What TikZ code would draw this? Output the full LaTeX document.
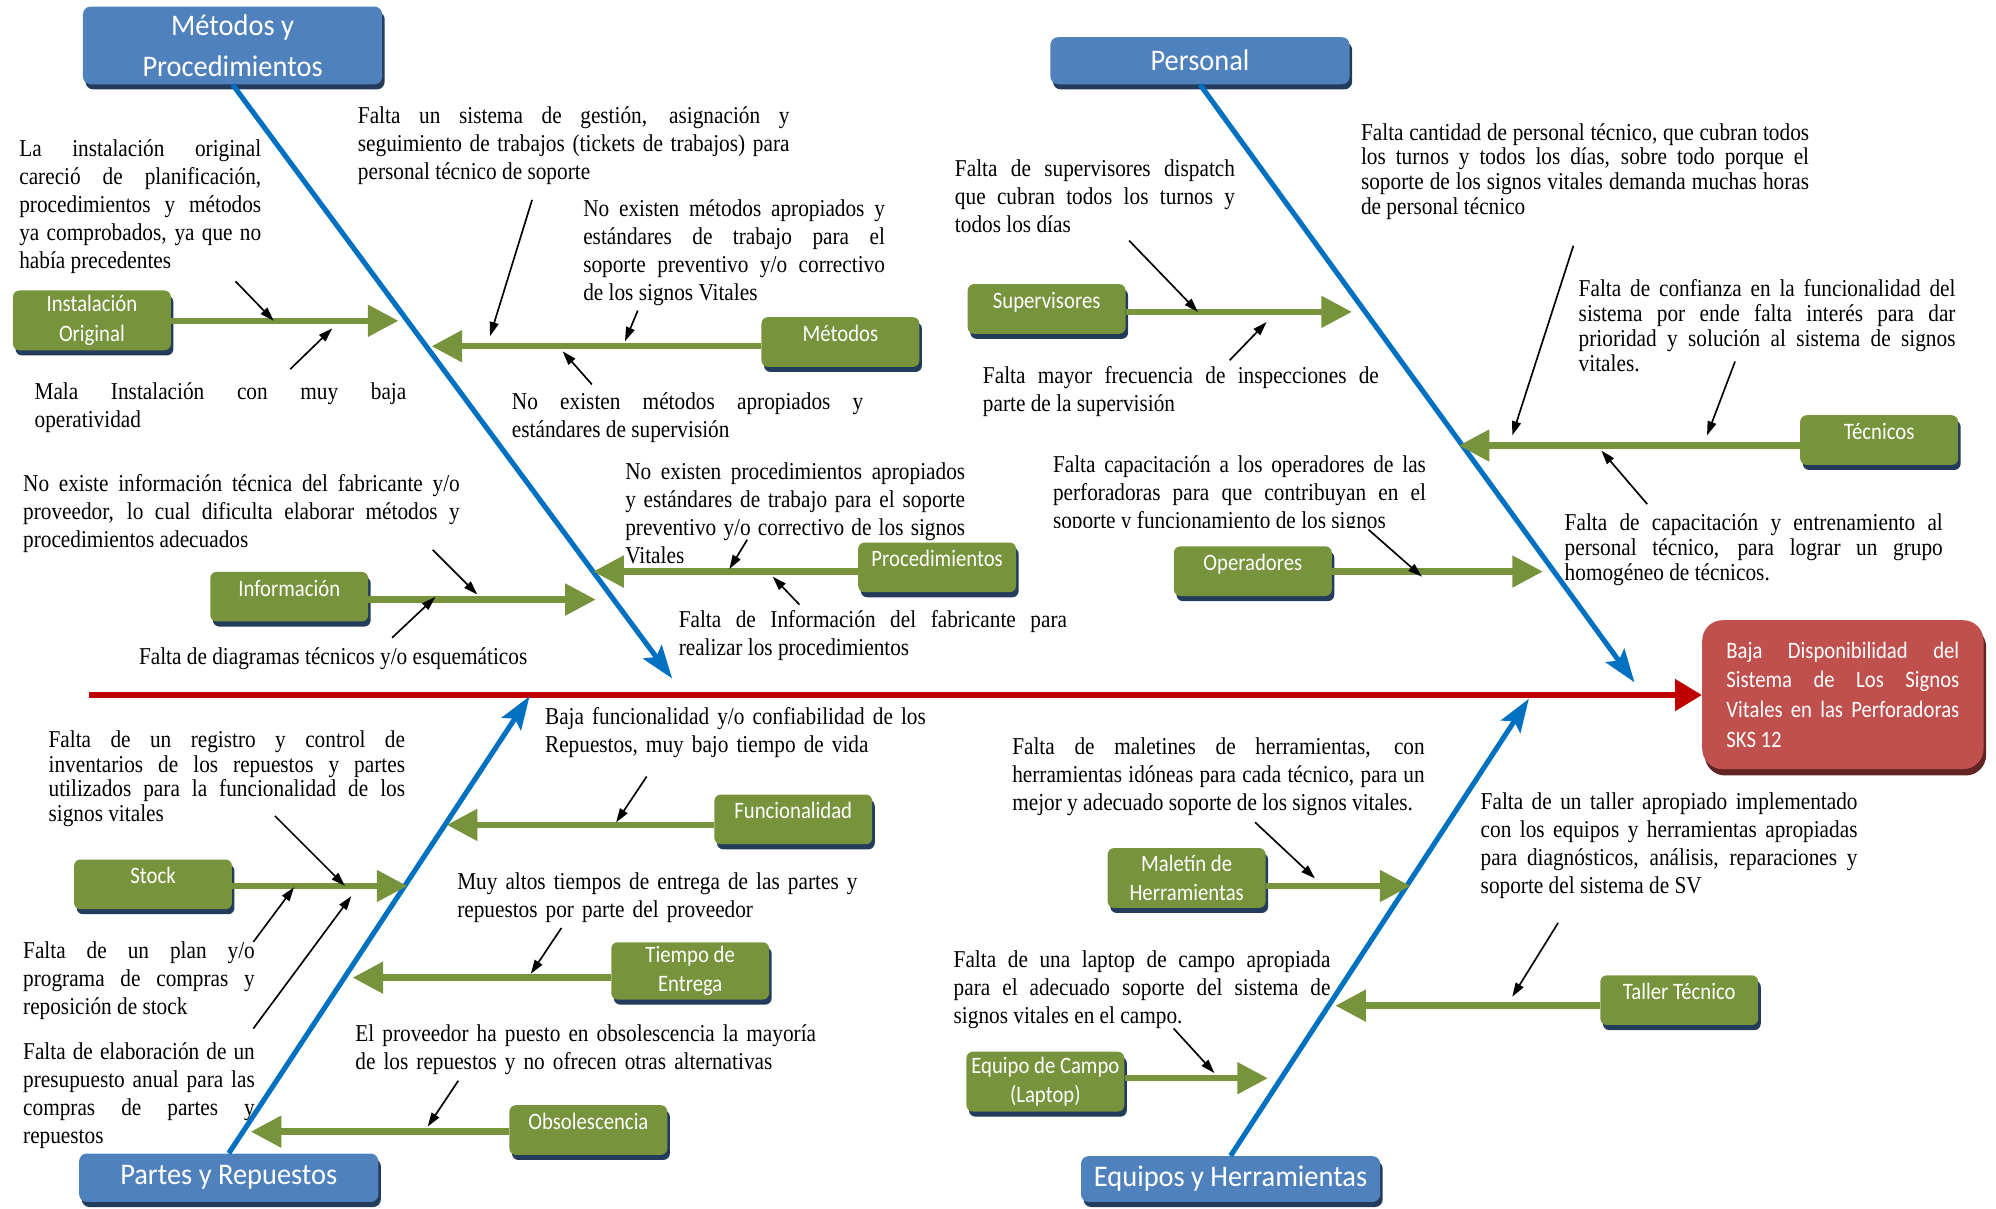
\documentclass[tikz,border=0pt]{standalone}
\usepackage{fontspec}
\setmainfont[FakeStretch=0.88]{Liberation Serif}
\newfontfamily\boxfont[FakeStretch=0.88]{Carlito}
\newfontfamily\headfont[FakeStretch=0.95]{Carlito}
\usepackage{tikz}
\usetikzlibrary{positioning,shapes,calc,arrows.meta,shadows}
\tolerance=10000
\hyphenpenalty=10000

\definecolor{boneblue}{RGB}{0,112,192}
\definecolor{headblue}{RGB}{79,129,189}
\definecolor{causegreen}{RGB}{119,147,60}
\definecolor{navyshadow}{RGB}{36,60,92}
\definecolor{effectred}{RGB}{192,80,77}
\definecolor{redshadow}{RGB}{99,37,35}
\definecolor{spinered}{RGB}{192,0,0}

\begin{document}
\begin{tikzpicture}[x=1pt,y=-1pt,
    head/.style={fill=headblue, rounded corners=6pt, text=white, anchor=north west,
        font=\headfont\fontsize{23.5}{32}\selectfont, align=center, inner sep=0pt,
        minimum width=235pt, copy shadow={shadow xshift=2pt, shadow yshift=-4pt, fill=navyshadow, draw=none}},
    cause/.style={fill=causegreen, rounded corners=5pt, text=white, anchor=north west,
        font=\boxfont\fontsize{18.5}{23}\selectfont, align=center, inner xsep=2pt, inner ysep=0pt,
        minimum width=124pt, copy shadow={shadow xshift=2pt, shadow yshift=-4pt, fill=navyshadow, draw=none}},
    causeone/.style={cause, text height=19pt, text depth=20pt},
    causetwo/.style={cause, minimum height=47pt},
    effect/.style={fill=effectred, rounded corners=16pt, text=white, anchor=north west,
        font=\boxfont\fontsize{18.5}{23.4}\selectfont, align=justify, text width=183pt,
        inner xsep=19pt, inner ysep=0pt, minimum height=117pt,
        copy shadow={shadow xshift=2pt, shadow yshift=-5pt, fill=redshadow, draw=none}},
    note/.style={anchor=base west, align=justify, inner sep=0pt, font=\fontsize{19}{22}\selectfont},
    tightnote/.style={note, font=\fontsize{19}{19.5}\selectfont},
    garrow/.style={causegreen, line width=5pt, -{Triangle[length=24pt,width=24pt]}},
    bone/.style={boneblue, line width=4pt, -{Stealth[length=26pt,width=18pt,inset=5pt]}},
    spine/.style={spinered, line width=4.5pt, -{Triangle[length=21pt,width=24pt]}},
    pointer/.style={line width=1.3pt, -{Triangle[length=11pt,width=7pt]}}]

    \useasboundingbox (0,0) rectangle (1568,949);

    % Draw notes (Metodos y Procedimientos)
    \node[note, text width=190pt] (nIns1) at (15,123) {La instalación original\linebreak careció de planificación,\linebreak procedimientos y métodos\linebreak ya comprobados, ya que no\linebreak había precedentes};
    \node[note, text width=292pt] (nIns2) at (27,314) {Mala Instalación con muy baja\linebreak operatividad};
    \node[note, text width=339pt] (nMet1) at (281,97) {Falta un sistema de gestión, asignación y\linebreak seguimiento de trabajos (tickets de trabajos) para\linebreak personal técnico de soporte};
    \node[note, text width=237pt] (nMet2) at (458,170) {No existen métodos apropiados y\linebreak estándares de trabajo para el\linebreak soporte preventivo y/o correctivo\linebreak de los signos Vitales};
    \node[note, text width=276pt] (nMet3) at (402,322) {No existen métodos apropiados y\linebreak estándares de supervisión};
    \node[note, text width=343pt] (nInf1) at (18,386) {No existe información técnica del fabricante y/o\linebreak proveedor, lo cual dificulta elaborar métodos y\linebreak procedimientos adecuados};
    \node[note, text width=310pt] (nInf2) at (109,522) {Falta de diagramas técnicos y/o esquemáticos};
    \node[note, text width=267pt] (nProc1) at (491,377) {No existen procedimientos apropiados\linebreak y estándares de trabajo para el soporte\linebreak preventivo y/o correctivo de los signos\linebreak Vitales};
    \node[note, text width=305pt] (nProc2) at (533,493) {Falta de Información del fabricante para\linebreak realizar los procedimientos};

    % Draw notes (Personal)
    \node[note, text width=220pt] (nSup1) at (750,139) {Falta de supervisores dispatch\linebreak que cubran todos los turnos y\linebreak todos los días};
    \node[note, text width=311pt] (nSup2) at (772,301) {Falta mayor frecuencia de inspecciones de\linebreak parte de la supervisión};
    \node[tightnote, text width=352pt] (nTec1) at (1069,110) {Falta cantidad de personal técnico, que cubran todos\linebreak los turnos y todos los días, sobre todo porque el\linebreak soporte de los signos vitales demanda muchas horas\linebreak de personal técnico};
    \node[tightnote, text width=296pt] (nTec2) at (1240,233) {Falta de confianza en la funcionalidad del\linebreak sistema por ende falta interés para dar\linebreak prioridad y solución al sistema de signos\linebreak vitales.};
    \node[tightnote, text width=297pt] (nTec3) at (1229,417) {Falta de capacitación y entrenamiento al\linebreak personal técnico, para lograr un grupo\linebreak homogéneo de técnicos.};
    \begin{scope}
        \clip (800,340) rectangle (1130,414);
        \node[note, text width=293pt] (nOpe1) at (827,371) {Falta capacitación a los operadores de las\linebreak perforadoras para que contribuyan en el\linebreak soporte y funcionamiento de los signos};
    \end{scope}

    % Draw notes (Partes y Repuestos)
    \node[note, align=left, text width=400pt] (nFun1) at (428,569) {Baja funcionalidad y/o confiabilidad de los\\Repuestos, muy bajo tiempo de vida};
    \node[tightnote, text width=280pt] (nSto1) at (38,587) {Falta de un registro y control de\linebreak inventarios de los repuestos y partes\linebreak utilizados para la funcionalidad de los\linebreak signos vitales};
    \node[note, text width=182pt] (nSto2) at (18,753) {Falta de un plan y/o\linebreak programa de compras y\linebreak reposición de stock};
    \node[note, text width=182pt] (nSto3) at (18,832) {Falta de elaboración de un\linebreak presupuesto anual para las\linebreak compras de partes y\linebreak repuestos};
    \node[note, align=left, text width=400pt] (nTie1) at (359,699) {Muy altos tiempos de entrega de las partes y\\repuestos por parte del proveedor};
    \node[note, align=left, text width=450pt] (nObs1) at (279,818) {El proveedor ha puesto en obsolescencia la mayoría\\de los repuestos y no ofrecen otras alternativas};

    % Draw notes (Equipos y Herramientas)
    \node[note, text width=324pt] (nMal1) at (795,593) {Falta de maletines de herramientas, con\linebreak herramientas idóneas para cada técnico, para un\linebreak mejor y adecuado soporte de los signos vitales.};
    \node[note, text width=296pt] (nTal1) at (1163,636) {Falta de un taller apropiado implementado\linebreak con los equipos y herramientas apropiadas\linebreak para diagnósticos, análisis, reparaciones y\linebreak soporte del sistema de SV};
    \node[note, text width=296pt] (nEqc1) at (749,760) {Falta de una laptop de campo apropiada\linebreak para el adecuado soporte del sistema de\linebreak signos vitales en el campo.};

    % Draw effect and spine
    \node[effect] (eff) at (1337,487) {Baja Disponibilidad del\linebreak Sistema de Los Signos\linebreak Vitales en las Perforadoras\linebreak SKS 12};
    \coordinate (spineStart) at (70,546);
    \draw[spine] (spineStart) -- (eff.west |- spineStart);

    % Draw bones
    \node[head, minimum height=61pt] (metp) at (65,5) {Métodos y\\Procedimientos};
    \node[head, minimum height=37pt] (per) at (825,29) {Personal};
    \node[head, minimum height=38pt] (par) at (62,906) {Partes y Repuestos};
    \node[head, minimum height=36pt] (equ) at (849,908) {Equipos y Herramientas};
    \coordinate (metpTip) at (528,533);
    \coordinate (perTip) at (1284,536);
    \coordinate (parTip) at (416,547);
    \coordinate (equTip) at (1201,549);
    \draw[bone] (metp.south) -- (metpTip);
    \draw[bone] (per.south) -- (perTip);
    \draw[bone] (par.north) -- (parTip);
    \draw[bone] (equ.north) -- (equTip);

    % Draw causes
    \node[causetwo] (ins) at (10,228) {Instalación\\Original};
    \node[causeone] (met) at (598,249) {Métodos};
    \node[causeone] (inf) at (165,449) {Información};
    \node[causeone] (proc) at (674,426) {Procedimientos};
    \node[causeone] (sup) at (760,223) {Supervisores};
    \node[causeone] (tec) at (1414,326) {Técnicos};
    \node[causeone] (ope) at (922,429) {Operadores};
    \node[causeone] (fun) at (561,624) {Funcionalidad};
    \node[causeone] (sto) at (58,675) {Stock};
    \node[cause, minimum height=45pt] (tie) at (480,740) {Tiempo de\\Entrega};
    \node[causeone] (obs) at (400,868) {Obsolescencia};
    \node[causetwo] (mal) at (870,666) {Maletín de\\Herramientas};
    \node[causeone] (tal) at (1257,766) {Taller Técnico};
    \node[causetwo] (eqc) at (759,826) {Equipo de Campo\\(Laptop)};

    % Draw cause arrows
    \coordinate (insTip) at (313,252);
    \coordinate (metTip) at (339,272);
    \coordinate (infTip) at (468,471);
    \coordinate (procTip) at (466,449);
    \coordinate (supTip) at (1062,245);
    \coordinate (tecTip) at (1146,350);
    \coordinate (opeTip) at (1212,449);
    \coordinate (funTip) at (351,648);
    \coordinate (stoTip) at (320,696);
    \coordinate (tieTip) at (277,768);
    \coordinate (obsTip) at (197,889);
    \coordinate (malTip) at (1108,696);
    \coordinate (talTip) at (1049,790);
    \coordinate (eqcTip) at (996,847);
    \draw[garrow] (ins.east |- insTip) -- (insTip);
    \draw[garrow] (met.west |- metTip) -- (metTip);
    \draw[garrow] (inf.east |- infTip) -- (infTip);
    \draw[garrow] (proc.west |- procTip) -- (procTip);
    \draw[garrow] (sup.east |- supTip) -- (supTip);
    \draw[garrow] (tec.west |- tecTip) -- (tecTip);
    \draw[garrow] (ope.east |- opeTip) -- (opeTip);
    \draw[garrow] (fun.west |- funTip) -- (funTip);
    \draw[garrow] (sto.east |- stoTip) -- (stoTip);
    \draw[garrow] (tie.west |- tieTip) -- (tieTip);
    \draw[garrow] (obs.west |- obsTip) -- (obsTip);
    \draw[garrow] (mal.east |- malTip) -- (malTip);
    \draw[garrow] (tal.west |- talTip) -- (talTip);
    \draw[garrow] (eqc.east |- eqcTip) -- (eqcTip);

    % Draw pointers from notes
    \coordinate (ins1) at (185,221); \coordinate (ins1e) at (215,252);
    \coordinate (ins2) at (228,290); \coordinate (ins2e) at (261,258);
    \coordinate (met1) at (418,157); \coordinate (met1e) at (385,264);
    \coordinate (met2) at (501,244); \coordinate (met2e) at (491,268);
    \coordinate (met3) at (465,302); \coordinate (met3e) at (442,276);
    \coordinate (inf1) at (340,432); \coordinate (inf1e) at (375,467);
    \coordinate (inf2) at (308,501); \coordinate (inf2e) at (342,469);
    \coordinate (proc1) at (587,424); \coordinate (proc1e) at (573,447);
    \coordinate (proc2) at (628,475); \coordinate (proc2e) at (607,453);
    \coordinate (sup1) at (887,189); \coordinate (sup1e) at (941,245);
    \coordinate (sup2) at (966,283); \coordinate (sup2e) at (995,253);
    \coordinate (tec1) at (1236,193); \coordinate (tec1e) at (1188,342);
    \coordinate (tec2) at (1363,284); \coordinate (tec2e) at (1341,342);
    \coordinate (tec3) at (1294,396); \coordinate (tec3e) at (1258,354);
    \coordinate (ope1) at (1075,416); \coordinate (ope1e) at (1117,453);
    \coordinate (fun1) at (508,610); \coordinate (fun1e) at (484,646);
    \coordinate (sto1) at (216,641); \coordinate (sto1e) at (271,696);
    \coordinate (sto2) at (199,740); \coordinate (sto2e) at (231,697);
    \coordinate (sto3) at (199,808); \coordinate (sto3e) at (276,704);
    \coordinate (tie1) at (441,729); \coordinate (tie1e) at (417,765);
    \coordinate (obs1) at (360,849); \coordinate (obs1e) at (336,885);
    \coordinate (mal1) at (986,646); \coordinate (mal1e) at (1033,690);
    \coordinate (tal1) at (1224,725); \coordinate (tal1e) at (1188,783);
    \coordinate (eqc1) at (922,808); \coordinate (eqc1e) at (954,843);
    \draw[pointer] (ins1) -- (ins1e);
    \draw[pointer] (ins2) -- (ins2e);
    \draw[pointer] (met1) -- (met1e);
    \draw[pointer] (met2) -- (met2e);
    \draw[pointer] (met3) -- (met3e);
    \draw[pointer] (inf1) -- (inf1e);
    \draw[pointer] (inf2) -- (inf2e);
    \draw[pointer] (proc1) -- (proc1e);
    \draw[pointer] (proc2) -- (proc2e);
    \draw[pointer] (sup1) -- (sup1e);
    \draw[pointer] (sup2) -- (sup2e);
    \draw[pointer] (tec1) -- (tec1e);
    \draw[pointer] (tec2) -- (tec2e);
    \draw[pointer] (tec3) -- (tec3e);
    \draw[pointer] (ope1) -- (ope1e);
    \draw[pointer] (fun1) -- (fun1e);
    \draw[pointer] (sto1) -- (sto1e);
    \draw[pointer] (sto2) -- (sto2e);
    \draw[pointer] (sto3) -- (sto3e);
    \draw[pointer] (tie1) -- (tie1e);
    \draw[pointer] (obs1) -- (obs1e);
    \draw[pointer] (mal1) -- (mal1e);
    \draw[pointer] (tal1) -- (tal1e);
    \draw[pointer] (eqc1) -- (eqc1e);
\end{tikzpicture}
\end{document}
